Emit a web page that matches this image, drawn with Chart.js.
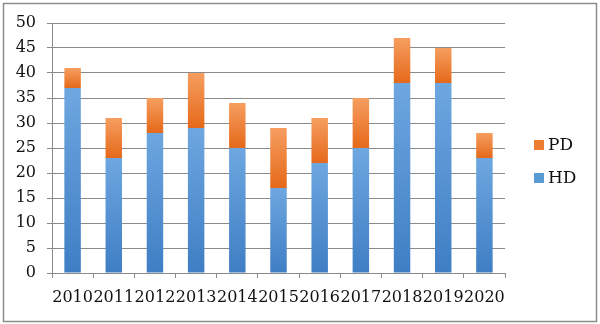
<!DOCTYPE html>
<html>
<head>
<meta charset="utf-8">
<script src="https://cdn.jsdelivr.net/npm/chart.js@4/dist/chart.umd.min.js"></script>
<style>
  html, body { margin: 0; padding: 0; background: #fff; }
  #wrap { width: 600px; height: 324px; }
</style>
</head>
<body>
<div id="wrap"><canvas id="barChart" width="600" height="324"></canvas></div>
<script>
var years = ["2010", "2011", "2012", "2013", "2014", "2015", "2016", "2017", "2018", "2019", "2020"];
var hdValues = [37, 23, 28, 29, 25, 17, 22, 25, 38, 38, 23];
var pdValues = [4, 8, 7, 11, 9, 12, 9, 10, 9, 7, 5];
var yTicks = [0, 5, 10, 15, 20, 25, 30, 35, 40, 45, 50];
var legendColors = ["#5b9bd5", "#ed7d31"];

var gridGray = "#8a8a8a";
var serif = "'DejaVu Serif', 'Liberation Serif', serif";

// gradient for one stacked segment, lighter at the top
function segmentFill(context, below, light, dark) {
  var chart = context.chart;
  var y = chart.scales && chart.scales.y;
  if (!chart.chartArea || !y || context.type !== "data") return dark;
  var i = context.dataIndex;
  var start = below ? below[i] : 0;
  var end = start + context.dataset.data[i];
  var top = y.getPixelForValue(end);
  var bottom = y.getPixelForValue(start);
  if (!isFinite(top) || !isFinite(bottom) || top === bottom) return dark;
  var g = chart.ctx.createLinearGradient(0, top, 0, bottom);
  g.addColorStop(0, light);
  g.addColorStop(1, dark);
  return g;
}

var frame = {
  id: "frame",
  beforeDraw: function(chart) {
    var c = chart.ctx;
    c.save();
    c.fillStyle = "#ffffff";
    c.fillRect(0, 0, chart.width, chart.height);
    c.strokeStyle = "#8c8c8c";
    c.lineWidth = 1.5;
    c.strokeRect(3.5, 3.5, chart.width - 7, chart.height - 6);
    c.restore();
  }
};

// legend on the right, PD listed above HD
var sideLegend = {
  id: "sideLegend",
  afterDraw: function(chart) {
    var c = chart.ctx;
    var sets = chart.data.datasets.slice().reverse();
    var cols = legendColors.slice().reverse();
    var x = chart.chartArea.right + 29;
    var y = 145;
    c.save();
    c.font = "17px " + serif;
    c.textBaseline = "middle";
    c.textAlign = "left";
    sets.forEach(function(ds, i) {
      c.fillStyle = cols[i];
      c.fillRect(x, y - 5, 10, 10);
      c.fillStyle = "#111";
      c.fillText(ds.label, x + 14, y + 1);
      y += 33;
    });
    c.restore();
  }
};

var ctx = document.getElementById("barChart");
var myChart = new Chart(ctx, {
  type: "bar",
  data: {
    labels: years,
    datasets: [{
      label: "HD",
      data: hdValues,
      backgroundColor: function(c) { return segmentFill(c, null, "#6ea7e0", "#3f7ec4"); },
      barPercentage: 0.4,
      categoryPercentage: 1.0
    }, {
      label: "PD",
      data: pdValues,
      backgroundColor: function(c) { return segmentFill(c, hdValues, "#f69e60", "#e5691a"); },
      barPercentage: 0.4,
      categoryPercentage: 1.0
    }]
  },
  options: {
    responsive: false,
    animation: false,
    layout: {
      padding: { left: 0, right: 95, top: 23, bottom: 0 }
    },
    plugins: {
      tooltip: { enabled: false },
      legend: { display: false }
    },
    scales: {
      x: {
        stacked: true,
        afterFit: function(s) { s.height = 51; },
        grid: { offset: true, drawOnChartArea: false, drawTicks: true, tickLength: 5, color: gridGray },
        border: { color: gridGray },
        ticks: { color: "#111", padding: 10, maxRotation: 0, autoSkip: false, font: { family: serif, size: 16 } }
      },
      y: {
        stacked: true,
        min: 0,
        max: 50,
        afterFit: function(s) { s.width = 52; },
        afterBuildTicks: function(s) { s.ticks = yTicks.map(function(v) { return { value: v }; }); },
        grid: { color: gridGray, drawTicks: true, tickLength: 5 },
        border: { color: gridGray },
        ticks: { color: "#111", padding: 11, font: { family: serif, size: 16 } }
      }
    }
  },
  plugins: [frame, sideLegend]
});
</script>
</body>
</html>
